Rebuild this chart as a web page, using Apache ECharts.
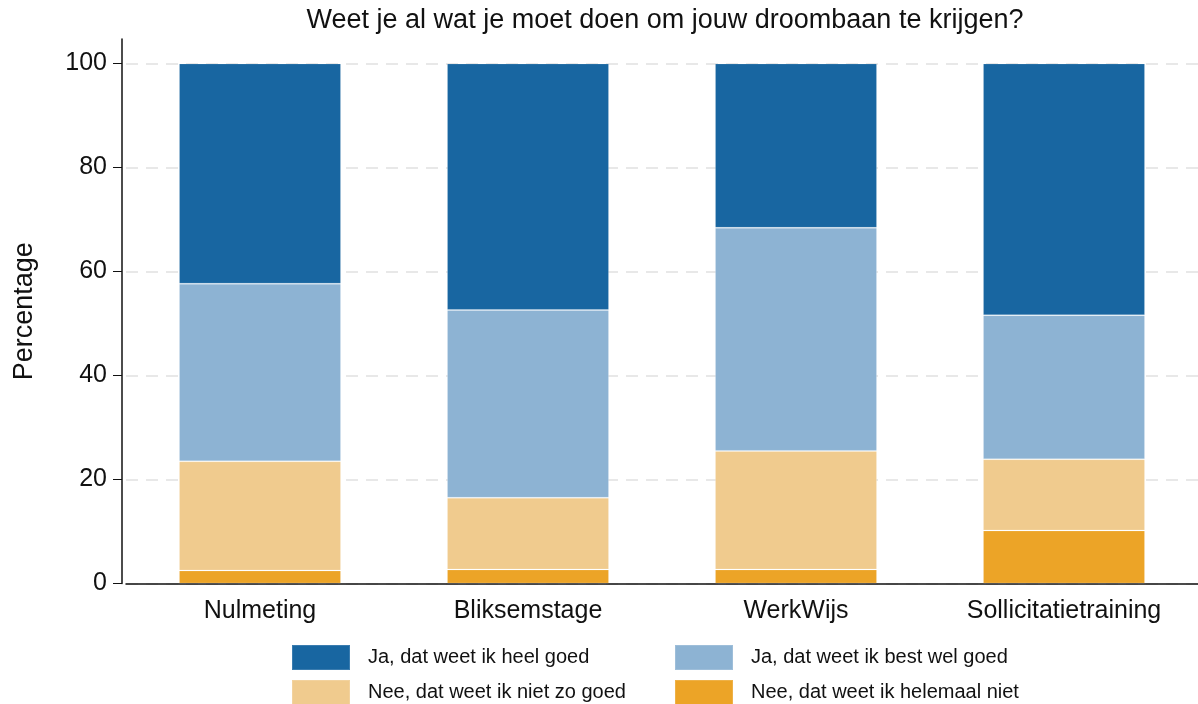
<!DOCTYPE html>
<html>
<head>
<meta charset="utf-8">
<script src="https://cdn.jsdelivr.net/npm/echarts@6/dist/echarts.min.js"></script>
<style>
  html, body { margin: 0; padding: 0; background: #fff; }
  #main { width: 1198px; height: 704px; }
</style>
</head>
<body>
<div id="main"></div>
<script>
// data (percentages, stacked bottom to top)
var categories = ['Nulmeting', 'Bliksemstage', 'WerkWijs', 'Sollicitatietraining'];
var helemaalNiet = [2.5, 2.7, 2.7, 10.2];
var nietZoGoed = [21.0, 13.8, 22.8, 13.7];
var bestWelGoed = [34.15, 36.1, 42.9, 27.7];
var heelGoed = [42.35, 47.4, 31.6, 48.4];
var yTicks = [0, 20, 40, 60, 80, 100];

var names = {
  heel: 'Ja, dat weet ik heel goed',
  best: 'Ja, dat weet ik best wel goed',
  niet: 'Nee, dat weet ik niet zo goed',
  helemaal: 'Nee, dat weet ik helemaal niet'
};
var colors = {
  heel: '#1866a1',
  best: '#8db3d3',
  niet: '#f0cb8e',
  helemaal: '#eca427'
};

var myChart = echarts.init(document.getElementById('main'));

function bar(name, data, color) {
  return {
    name: name,
    type: 'bar',
    stack: 'total',
    barWidth: 162,
    data: data,
    itemStyle: { color: color, borderColor: 'rgba(255,255,255,0.15)', borderWidth: 1 }
  };
}

// one legend box per entry, laid out in a 2x2 grid like the original
function legendItem(name, left, top) {
  return {
    left: left, top: top, itemWidth: 58, itemHeight: 25,
    icon: 'rect', selectedMode: false, data: [name],
    textStyle: { fontFamily: 'Liberation Sans', fontSize: 20, color: '#111', padding: [0, 0, 0, 13] }
  };
}

var option = {
  animation: false,
  textStyle: { fontFamily: 'Liberation Sans' },
  title: {
    text: 'Weet je al wat je moet doen om jouw droombaan te krijgen?',
    left: 660,
    textAlign: 'center',
    top: 2,
    textStyle: { fontFamily: 'Liberation Sans', fontSize: 27, fontWeight: 'normal', color: '#111' }
  },
  legend: [
    legendItem(names.heel, 286, 639),
    legendItem(names.best, 669, 639),
    legendItem(names.niet, 286, 674),
    legendItem(names.helemaal, 669, 674)
  ],
  grid: { left: 126, right: 0, top: 39, bottom: 120.5 },
  xAxis: {
    type: 'category',
    data: categories,
    axisLine: { lineStyle: { color: '#111', width: 1.5 } },
    axisTick: { show: false },
    axisLabel: { fontSize: 25, color: '#111', margin: 15 }
  },
  yAxis: {
    type: 'value',
    min: 0,
    max: 104.7,
    offset: 4,
    name: 'Percentage',
    nameLocation: 'middle',
    nameGap: 84,
    nameTextStyle: { fontSize: 27, color: '#111' },
    axisLine: { show: true, lineStyle: { color: '#111', width: 1.5 } },
    axisTick: { show: true, length: 9, customValues: yTicks, lineStyle: { color: '#111' } },
    axisLabel: { fontSize: 25, color: '#111', margin: 15, customValues: yTicks },
    splitLine: { show: true, lineStyle: { color: '#e8e8e8', type: [12, 8], width: 2 } }
  },
  series: [
    bar(names.helemaal, helemaalNiet, colors.helemaal),
    bar(names.niet, nietZoGoed, colors.niet),
    bar(names.best, bestWelGoed, colors.best),
    bar(names.heel, heelGoed, colors.heel)
  ]
};

myChart.setOption(option);
</script>
</body>
</html>
